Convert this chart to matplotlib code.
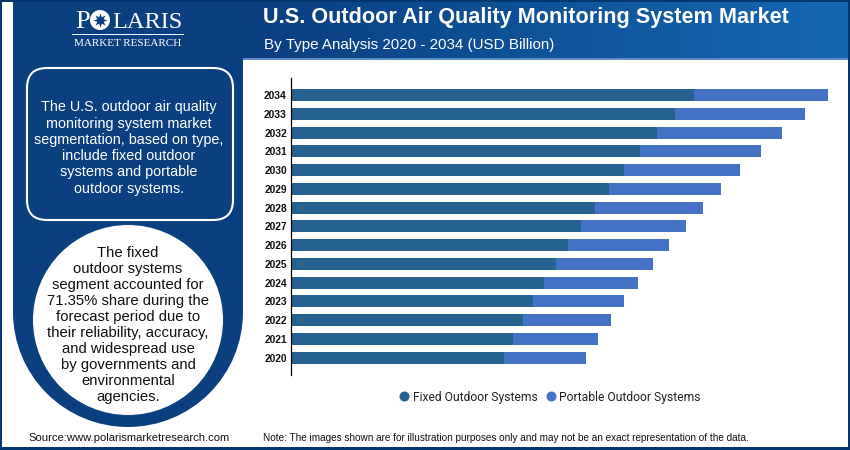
import numpy as np
import matplotlib
matplotlib.use("Agg")
import matplotlib.pyplot as plt
from matplotlib.patches import FancyBboxPatch, Circle, Rectangle, Wedge
from matplotlib.lines import Line2D

years = ['2020','2021','2022','2023','2024','2025','2026','2027','2028','2029','2030','2031','2032','2033','2034']
fixed = [2.13,2.22,2.32,2.42,2.53,2.65,2.77,2.90,3.04,3.18,3.33,3.49,3.66,3.84,4.03]
portable = [0.82,0.85,0.88,0.91,0.94,0.97,1.01,1.05,1.08,1.12,1.16,1.21,1.25,1.30,1.34]
series_names = ['Fixed Outdoor Systems','Portable Outdoor Systems']
title = 'U.S. Outdoor Air Quality Monitoring System Market'
subtitle = 'By Type Analysis 2020 - 2034 (USD Billion)'
box_text = ('The U.S. outdoor air quality\nmonitoring system market\nsegmentation, based on type,\n'
            'include fixed outdoor\nsystems and portable\noutdoor systems.')
circle_text = ('The fixed\noutdoor systems\nsegment accounted for\n71.35% share during the\n'
               'forecast period due to\ntheir reliability, accuracy,\nand widespread use\n'
               'by governments and\nenvironmental\nagencies.')
source = 'Source:www.polarismarketresearch.com'
note = 'Note: The images shown are for illustration purposes only and may not be an exact representation of the data.'

SANS = 'Liberation Sans'
SERIF = 'Liberation Serif'
NAVY = '#0a4080'
EDGE = '#06366f'

fig = plt.figure(figsize=(8.5, 4.5), dpi=100, facecolor='white')
bg = fig.add_axes([0, 0, 1, 1])
bg.axis('off')

# header gradient
grad = np.linspace(0, 1, 256).reshape(1, -1)
cmap = matplotlib.colors.LinearSegmentedColormap.from_list('h', ['#0a3f80', '#1567b2'])
bg.imshow(grad, extent=(243, 850, 59, 0), cmap=cmap, aspect='auto', zorder=1)
bg.set_xlim(0, 850); bg.set_ylim(450, 0)
bg.add_patch(Rectangle((243, 58), 607, 1.5, fc='#5b8cc4', ec='none', zorder=2))

# left panel with rounded bottom
bg.add_patch(Rectangle((13, 0), 230, 312, fc=NAVY, ec='none', zorder=2))
bg.add_patch(Wedge((128, 312), 115, 0, 180, fc=NAVY, ec='none', zorder=2))

# frame
bg.add_patch(Rectangle((0, 0), 850, 2, fc=EDGE, ec='none', zorder=3))
bg.add_patch(Rectangle((0, 447), 850, 3, fc=EDGE, ec='none', zorder=3))
bg.add_patch(Rectangle((0, 0), 2, 450, fc=EDGE, ec='none', zorder=3))
bg.add_patch(Rectangle((848, 0), 2, 450, fc=EDGE, ec='none', zorder=3))

# logo
ty = 28
lkw = dict(family=SERIF, color='white', va='baseline', zorder=5)
bg.text(75, ty, 'P', fontsize=19, ha='left', **lkw)
bg.add_patch(Circle((100, 20), 10, fc='white', ec='none', zorder=5))
bg.plot([100], [20], marker=(8, 1, 0), ms=10, color=NAVY, mew=0, zorder=6)
bg.text(112, ty, 'LARIS', fontsize=17.6, ha='left', **lkw)
bg.plot([72, 183], [34, 34], color='white', lw=0.7, zorder=5)
bg.text(128, 44, 'MARKET RESEARCH', fontsize=8, family=SERIF, color='white',
        ha='center', va='center', zorder=5)

# info box
bg.add_patch(FancyBboxPatch((27, 68), 206, 152, boxstyle='round,pad=0,rounding_size=20',
                            fc=NAVY, ec='white', lw=1.5, zorder=4))
bg.text(129, 148, box_text, family=SANS, fontsize=10.4, color='white', ha='center', va='center',
        linespacing=1.21, zorder=5)

# white circle
bg.add_patch(Circle((128, 320), 95, fc='white', ec='none', zorder=4))
bg.text(128, 325, circle_text, family=SANS, fontsize=10.7, color='#111111', ha='center', va='center',
        linespacing=1.18, zorder=5)

# header text
bg.text(263, 17.5, title, family=SANS, weight='bold', fontsize=15.6, color='white',
        ha='left', va='center', zorder=5)
bg.text(264, 45, subtitle, family=SANS, fontsize=10.9, color='white', ha='left', va='center', zorder=5)

# footer text
bg.text(28, 438, source, family=SANS, fontsize=8.1, color='#111111', ha='left', va='center', zorder=5)
bg.text(263, 438, note, family=SANS, fontsize=7.2, color='#111111', ha='left', va='center', zorder=5)

# chart
ax = fig.add_axes([291/850, 1-375/450, 550/850, (375-78)/450])
ax.patch.set_alpha(0)
pos = np.arange(len(years))
c1, c2 = '#26628f', '#4472c4'
ax.barh(pos, fixed, height=0.64, color=c1, label=series_names[0])
ax.barh(pos, portable, left=fixed, height=0.64, color=c2, label=series_names[1])
ax.set_xlim(0, 5.5)
ax.set_ylim(-0.93, 14.907)
ax.set_yticks(pos, years)
ax.set_xticks([])
for s in ['top', 'right', 'bottom']:
    ax.spines[s].set_visible(False)
ax.spines['left'].set_linewidth(0.9)
ax.tick_params(axis='y', length=0, pad=3)
for t in ax.get_yticklabels():
    t.set_family(SANS); t.set_weight('bold'); t.set_fontsize(7.4); t.set_color('#111111')

handles = [Line2D([], [], ls='none', marker='o', ms=7.2, mew=0, color=c1),
           Line2D([], [], ls='none', marker='o', ms=7.2, mew=0, color=c2)]
leg = fig.legend(handles, series_names, loc='center', bbox_to_anchor=(550/850, 1-397/450),
                 ncol=2, frameon=False, handlelength=0.8, handletextpad=0.3, columnspacing=0.7,
                 prop={'family': 'Roboto', 'size': 8.7})
for t in leg.get_texts():
    t.set_color('#222222')

fig.savefig('out.png', dpi=100)
